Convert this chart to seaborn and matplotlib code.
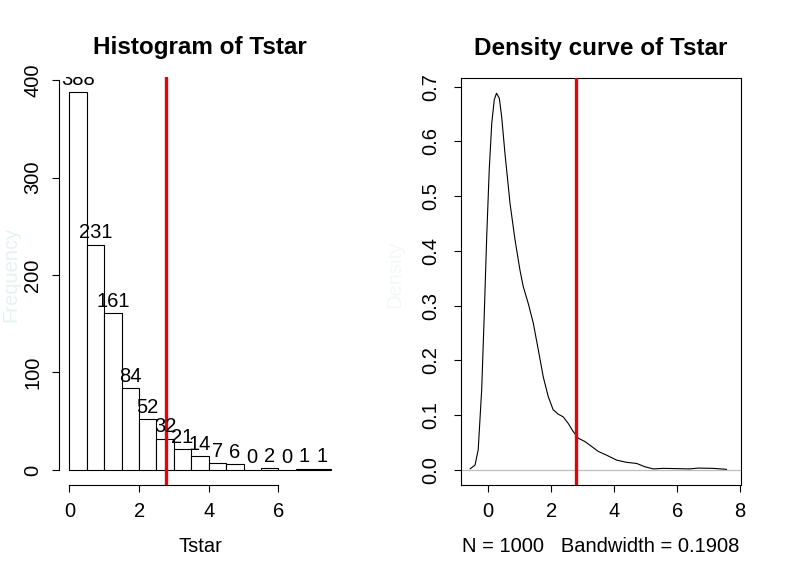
import numpy as np
import pandas as pd
import matplotlib
matplotlib.use("Agg")
import matplotlib.pyplot as plt
import matplotlib.transforms as mtransforms
import seaborn as sns

# ---- data ----
bin_edges = [0.0, 0.5, 1.0, 1.5, 2.0, 2.5, 3.0, 3.5, 4.0, 4.5, 5.0, 5.5, 6.0, 6.5, 7.0, 7.5]
counts = [388, 231, 161, 84, 52, 32, 21, 14, 7, 6, 0, 2, 0, 1, 1]
t_obs = 2.77

dens_x = [-0.58, -0.42, -0.32, -0.21, -0.13, -0.05, 0.03, 0.11, 0.19, 0.26, 0.35, 0.425,
          0.53, 0.69, 0.85, 1.006, 1.11, 1.27, 1.43, 1.59, 1.746, 1.905, 2.06, 2.22, 2.38,
          2.54, 2.70, 2.86, 3.07, 3.28, 3.49, 3.76, 4.08, 4.39, 4.71, 4.97, 5.24, 5.56,
          5.98, 6.40, 6.67, 7.14, 7.57]
dens_y = [0.002, 0.009, 0.037, 0.146, 0.28, 0.426, 0.548, 0.633, 0.676, 0.688, 0.679, 0.645,
          0.578, 0.487, 0.42, 0.365, 0.335, 0.304, 0.268, 0.219, 0.170, 0.134, 0.11, 0.102,
          0.097, 0.085, 0.070, 0.058, 0.052, 0.043, 0.034, 0.027, 0.018, 0.014, 0.012,
          0.006, 0.002, 0.003, 0.0025, 0.002, 0.0035, 0.003, 0.0012]

hist_title = "Histogram of Tstar"
dens_title = "Density curve of Tstar"
x_label = "Tstar"
dens_xlabel = "N = 1000   Bandwidth = 0.1908"
hist_ylabel = "Frequency"
dens_ylabel = "Density"

# ---- style ----
sns.set_theme(style="white")
plt.rcParams["font.family"] = ["Liberation Sans", "DejaVu Sans"]
plt.rcParams["axes.linewidth"] = 0.8
plt.rcParams["xtick.major.width"] = 0.8
plt.rcParams["ytick.major.width"] = 0.8
plt.rcParams["xtick.major.size"] = 5
plt.rcParams["ytick.major.size"] = 5
plt.rcParams["xtick.color"] = "black"
plt.rcParams["ytick.color"] = "black"
plt.rcParams["xtick.labelcolor"] = "black"
plt.rcParams["ytick.labelcolor"] = "black"
plt.rcParams["text.color"] = "black"
plt.rcParams["axes.labelcolor"] = "black"
plt.rcParams["axes.titlecolor"] = "black"
plt.rcParams["axes.edgecolor"] = "black"

W, H = 801, 583
fig = plt.figure(figsize=(W / 100, H / 100), dpi=100)

def box(l, r, t, b):
    return [l / W, (H - b) / H, (r - l) / W, (b - t) / H]

tick_fs = 14.5
title_fs = 17.5

# ---- left: histogram ----
ax1 = fig.add_axes(box(59, 341, 76.6, 485.1))
mids = [(a + b) / 2 for a, b in zip(bin_edges[:-1], bin_edges[1:])]
hdf = pd.DataFrame({"mid": mids, "count": counts})
sns.histplot(data=hdf, x="mid", weights="count", bins=bin_edges, ax=ax1,
             color="white", edgecolor="black", linewidth=0.8, alpha=1.0)
ax1.set_xlim(-0.3, 7.8)
ax1.set_ylim(-15.52, 403.52)
ax1.axvline(t_obs, color="#e8000b", lw=2.4, zorder=5)
off = mtransforms.offset_copy(ax1.transData, fig=fig, x=0, y=6.5, units="dots")
for m, c in zip(mids, counts):
    ax1.text(m, c, str(c), transform=off, ha="center", va="baseline",
             fontsize=tick_fs, clip_on=True, zorder=6)
for s in ["top", "right"]:
    ax1.spines[s].set_visible(False)
ax1.spines["left"].set_bounds(0, 400)
ax1.spines["bottom"].set_bounds(0, 6)
ax1.set_xticks([0, 2, 4, 6])
ax1.set_yticks([0, 100, 200, 300, 400])
ax1.tick_params(axis="x", labelsize=tick_fs, pad=7.5, bottom=True, length=5)
ax1.tick_params(axis="y", labelsize=tick_fs, pad=7, left=True, length=5)
for lab in ax1.get_yticklabels():
    lab.set_rotation(90)
    lab.set_va("center")
ax1.set_title(hist_title, fontsize=title_fs, fontweight="bold", pad=16)
ax1.set_xlabel(x_label, fontsize=tick_fs, labelpad=11)
ax1.set_ylabel("")
fig.text(11 / W, 1 - 274 / H, hist_ylabel, rotation=90, ha="center", va="center",
         fontsize=tick_fs, color="#e6f2f2")

# ---- right: density ----
ax2 = fig.add_axes(box(460.7, 741, 78.3, 485))
ax2.axhline(0, color="#bebebe", lw=0.9, zorder=1)
sns.lineplot(x=dens_x, y=dens_y, ax=ax2, color="black", lw=0.8, sort=False,
             estimator=None, zorder=3)
ax2.axvline(t_obs, color="#e8000b", lw=2.4, zorder=5)
ax2.set_xlim(-0.876, 8.026)
ax2.set_ylim(-0.0274, 0.7153)
ax2.set_xticks([0, 2, 4, 6, 8])
ax2.set_yticks([0.0, 0.1, 0.2, 0.3, 0.4, 0.5, 0.6, 0.7])
ax2.set_yticklabels([f"{v:.1f}" for v in [0.0, 0.1, 0.2, 0.3, 0.4, 0.5, 0.6, 0.7]])
ax2.tick_params(axis="x", labelsize=tick_fs, pad=7.5, bottom=True, length=5)
ax2.tick_params(axis="y", labelsize=tick_fs, pad=10, left=True, length=5)
for lab in ax2.get_yticklabels():
    lab.set_rotation(90)
    lab.set_va("center")
for s in ax2.spines.values():
    s.set_visible(True)
    s.set_color("black")
    s.set_linewidth(0.8)
ax2.set_title(dens_title, fontsize=title_fs, fontweight="bold", pad=17)
ax2.set_xlabel(dens_xlabel, fontsize=tick_fs, labelpad=11)
ax2.set_ylabel("")
fig.text(395 / W, 1 - 274 / H, dens_ylabel, rotation=90, ha="center", va="center",
         fontsize=tick_fs, color="#f4f8f8")

fig.savefig("out.png", dpi=100)
